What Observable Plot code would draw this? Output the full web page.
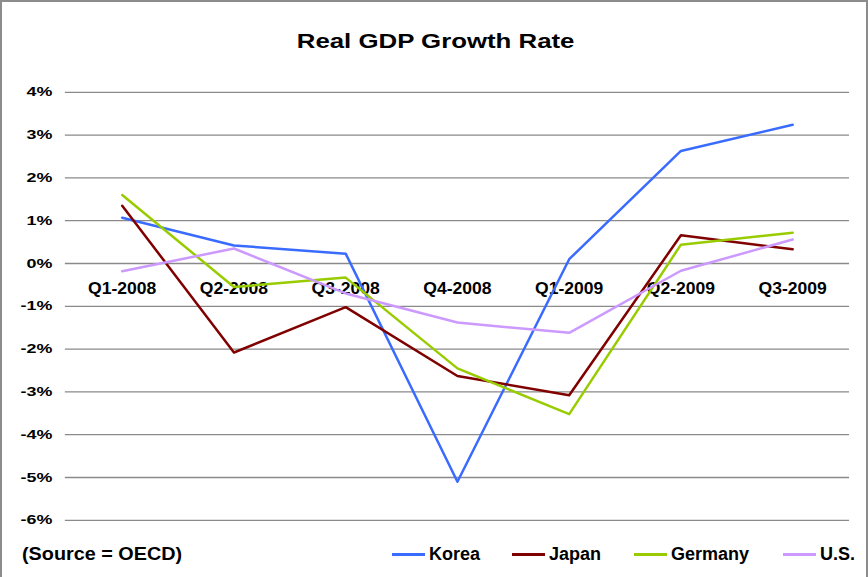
<!DOCTYPE html>
<html>
<head>
<meta charset="utf-8">
<script src="https://cdn.jsdelivr.net/npm/d3@7"></script>
<script src="https://cdn.jsdelivr.net/npm/@observablehq/plot@0.6"></script>
<style>
  html, body { margin: 0; padding: 0; background: #fff; }
  #wrap { position: relative; width: 868px; height: 577px; box-sizing: border-box; border: 2px solid #8c8c8c; border-bottom: none; overflow: hidden; font-family: "Liberation Sans", Arial, sans-serif; }
  #chart { position: absolute; left: -2px; top: -2px; }
  #title { position: absolute; left: 0; width: 868px; top: 28px; text-align: center; font-weight: bold; font-size: 20px; color: #000; }
  #title span { display: inline-block; transform: scaleX(1.29); }
  #source { position: absolute; left: 20px; top: 542px; font-weight: bold; font-size: 18px; transform: scaleX(1.1); transform-origin: left center; }
  .leg { position: absolute; top: 542px; font-weight: bold; font-size: 18px; display: flex; align-items: center; }
  .leg span.sw { display: inline-block; width: 33px; height: 3px; margin-right: 4px; }
</style>
</head>
<body>
<div id="wrap">
  <div id="chart"></div>
  <div id="title"><span>Real GDP Growth Rate</span></div>
  <div id="source">(Source = OECD)</div>
  <div id="legend"></div>
</div>
<script>
const quarters = ["Q1-2008", "Q2-2008", "Q3-2008", "Q4-2008", "Q1-2009", "Q2-2009", "Q3-2009"];
const korea   = [1.07, 0.42, 0.23, -5.10, 0.10, 2.63, 3.24];
const japan   = [1.35, -2.08, -1.02, -2.63, -3.08, 0.66, 0.33];
const germany = [1.60, -0.55, -0.33, -2.45, -3.52, 0.44, 0.72];
const us      = [-0.18, 0.35, -0.70, -1.38, -1.62, -0.17, 0.56];
const seriesNames = ["Korea", "Japan", "Germany", "U.S."];
const seriesColors = ["#3a6bff", "#800000", "#99cc00", "#cc99ff"];
const yTicks = [-6, -5, -4, -3, -2, -1, 0, 1, 2, 3, 4];

const seriesValues = [korea, japan, germany, us];
const data = [];
seriesNames.forEach((name, i) => {
  quarters.forEach((q, j) => data.push({series: name, quarter: q, value: seriesValues[i][j]}));
});

const font = "'Liberation Sans', Arial, sans-serif";
const chart = Plot.plot({
  width: 868,
  height: 577,
  marginTop: 92,
  marginBottom: 56,
  marginLeft: 65,
  marginRight: 17,
  style: {fontFamily: font, background: "transparent"},
  x: {type: "point", domain: quarters, padding: 0.5, axis: null},
  y: {domain: [-6, 4], ticks: yTicks, tickFormat: d => d + "%", label: null},
  color: {domain: seriesNames, range: seriesColors},
  marks: [
    Plot.ruleY(yTicks, {stroke: "#8a8a8a", strokeWidth: 1.3}),
    Plot.axisY({ticks: yTicks, tickFormat: d => d + "%", tickSize: 0, tickPadding: 13, fontSize: 13, fontWeight: "bold", fill: "#000", label: null}),
    Plot.text(quarters, {x: d => d, y: 0, dy: 25, text: d => d, fontSize: 16, fontWeight: "bold", fill: "#000"}),
    Plot.line(data, {x: "quarter", y: "value", z: "series", stroke: "series", strokeWidth: 2.5})
  ]
});
document.getElementById("chart").appendChild(chart);

// horizontally stretch text glyphs to match the reference rendering
function stretch(node, s) {
  const t = node.getAttribute("transform");
  if (t) {
    node.setAttribute("transform", t + ` scale(${s},1)`);
  } else {
    const x = +(node.getAttribute("x") || 0), y = +(node.getAttribute("y") || 0);
    node.removeAttribute("x"); node.removeAttribute("y");
    node.setAttribute("transform", `translate(${x},${y}) scale(${s},1)`);
  }
}
chart.querySelectorAll("text").forEach(node => {
  const s = node.textContent.trim();
  if (/%$/.test(s)) stretch(node, 1.38);
  else if (/^Q\d-/.test(s)) stretch(node, 1.1);
});

const legendX = [390, 510, 632, 781];
const legend = document.getElementById("legend");
seriesNames.forEach((name, i) => {
  const d = document.createElement("div");
  d.className = "leg";
  d.style.left = legendX[i] + "px";
  d.innerHTML = `<span class="sw" style="background:${seriesColors[i]}"></span>${name}`;
  legend.appendChild(d);
});
</script>
</body>
</html>
